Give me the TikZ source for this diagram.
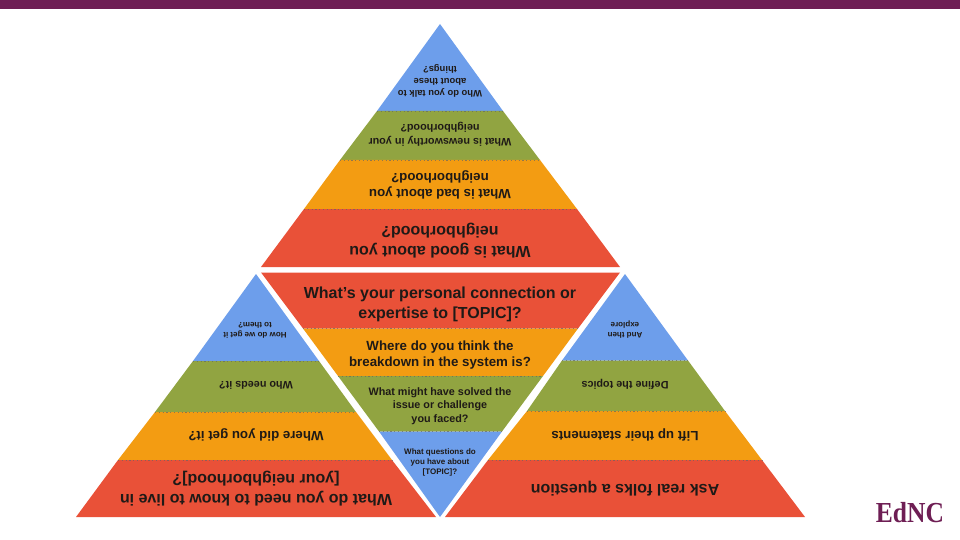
\documentclass[tikz,border=0pt]{standalone}
\usepackage{fontspec}
\setmainfont{Liberation Sans}
\newfontfamily\logofont{Liberation Serif}
\definecolor{barpurple}{HTML}{6E1E54}
\definecolor{bandred}{HTML}{E95138}
\definecolor{bandorange}{HTML}{F39C12}
\definecolor{bandgreen}{HTML}{91A441}
\definecolor{bandblue}{HTML}{6D9EEB}
\definecolor{inkdark}{HTML}{1F1A17}

\begin{document}
\begin{tikzpicture}[x=1pt,y=-1pt]

\tikzstyle{every node}=[align=center,text=inkdark,inner sep=0pt,font=\bfseries]
\tikzstyle{flipped}=[rotate=180]
\tikzstyle{seam}=[dash pattern=on 1.2pt off 2.6pt,line width=0.8pt,black!60,opacity=0.7]
\tikzstyle{sizea}=[font=\bfseries\fontsize{16}{20}\selectfont]
\tikzstyle{sizeb}=[font=\bfseries\fontsize{13.3}{16.5}\selectfont]
\tikzstyle{sizec}=[font=\bfseries\fontsize{10.8}{13.5}\selectfont]
\tikzstyle{sized}=[font=\bfseries\fontsize{8}{10}\selectfont]

\useasboundingbox (0,0) rectangle (960,540);

\fill[barpurple] (0,0) rectangle (960,9.5);

% top
\fill[bandblue] (440,24) -- (503,111) -- (377,111) -- cycle;
\fill[bandgreen] (377,111) -- (503,111) -- (540,160) -- (340,160) -- cycle;
\fill[bandorange] (340,160) -- (540,160) -- (577,209) -- (304,209) -- cycle;
\fill[bandred] (304,209) -- (577,209) -- (620,267) -- (261,267) -- cycle;
\draw[seam] (377,111) -- (503,111);
\draw[seam] (340,160) -- (540,160);
\draw[seam] (304,209) -- (577,209);
\node [flipped,font=\bfseries\fontsize{9.4}{12}\selectfont] (topblue) at (440,81) {Who do you talk to\\about these\\things?};
\node [flipped,sizec] (topgreen) at (440,134.5) {What is newsworthy in your\\neighborhood?};
\node [flipped,sizeb] (toporange) at (440,185) {What is bad about you\\neighborhood?};
\node [flipped,sizea] (topred) at (440,240.5) {What is good about you\\neighborhood?};

% middle
\fill[bandred] (261,272.5) -- (620,272.5) -- (578,328.5) -- (303,328.5) -- cycle;
\fill[bandorange] (303,328.5) -- (578,328.5) -- (543,376) -- (338,376) -- cycle;
\fill[bandgreen] (338,376) -- (543,376) -- (502,431.5) -- (379,431.5) -- cycle;
\fill[bandblue] (379,431.5) -- (502,431.5) -- (440,517) -- cycle;
\draw[seam] (303,328.5) -- (578,328.5);
\draw[seam] (338,376) -- (543,376);
\draw[seam] (379,431.5) -- (502,431.5);
\node [sizea] (midred) at (440,304) {What's your personal connection or\\expertise to [TOPIC]?};
\node [sizeb] (midorange) at (440,355) {Where do you think the\\breakdown in the system is?};
\node [sizec] (midgreen) at (440,406) {What might have solved the\\issue or challenge\\you faced?};
\node [sized] (midblue) at (440,462) {What questions do\\you have about\\{}[TOPIC]?};

% left
\fill[bandblue] (256,274) -- (319,361) -- (193,361) -- cycle;
\fill[bandgreen] (193,361) -- (319,361) -- (356,412) -- (155,412) -- cycle;
\fill[bandorange] (155,412) -- (356,412) -- (392,460) -- (118,460) -- cycle;
\fill[bandred] (118,460) -- (392,460) -- (436,517) -- (76,517) -- cycle;
\draw[seam] (193,361) -- (319,361);
\draw[seam] (155,412) -- (356,412);
\draw[seam] (118,460) -- (392,460);
\node [flipped,sized] (leftblue) at (255,330) {How do we get it\\to them?};
\node [flipped,sizec] (leftgreen) at (256,385) {Who needs it?};
\node [flipped,sizeb] (leftorange) at (256,434.5) {Where did you get it?};
\node [flipped,sizea] (leftred) at (256,489) {What do you need to know to live in\\{}[your neighborhood]?};

% right
\fill[bandblue] (625,274) -- (688,360.5) -- (562,360.5) -- cycle;
\fill[bandgreen] (562,360.5) -- (688,360.5) -- (725,411) -- (527,411) -- cycle;
\fill[bandorange] (527,411) -- (725,411) -- (762,460) -- (488,460) -- cycle;
\fill[bandred] (488,460) -- (762,460) -- (805,517) -- (445,517) -- cycle;
\draw[seam] (562,360.5) -- (688,360.5);
\draw[seam] (527,411) -- (725,411);
\draw[seam] (488,460) -- (762,460);
\node [flipped,sized] (rightblue) at (625,330) {And then\\explore};
\node [flipped,sizec] (rightgreen) at (625,384) {Define the topics};
\node [flipped,sizeb] (rightorange) at (625,434.5) {Lift up their statements};
\node [flipped,sizea] (rightred) at (625,489) {Ask real folks a question};

% logo
\node [text=barpurple,xscale=0.88,font=\logofont\bfseries\fontsize{29}{30}\selectfont] (logo) at (910,513) {EdNC};

\end{tikzpicture}
\end{document}
